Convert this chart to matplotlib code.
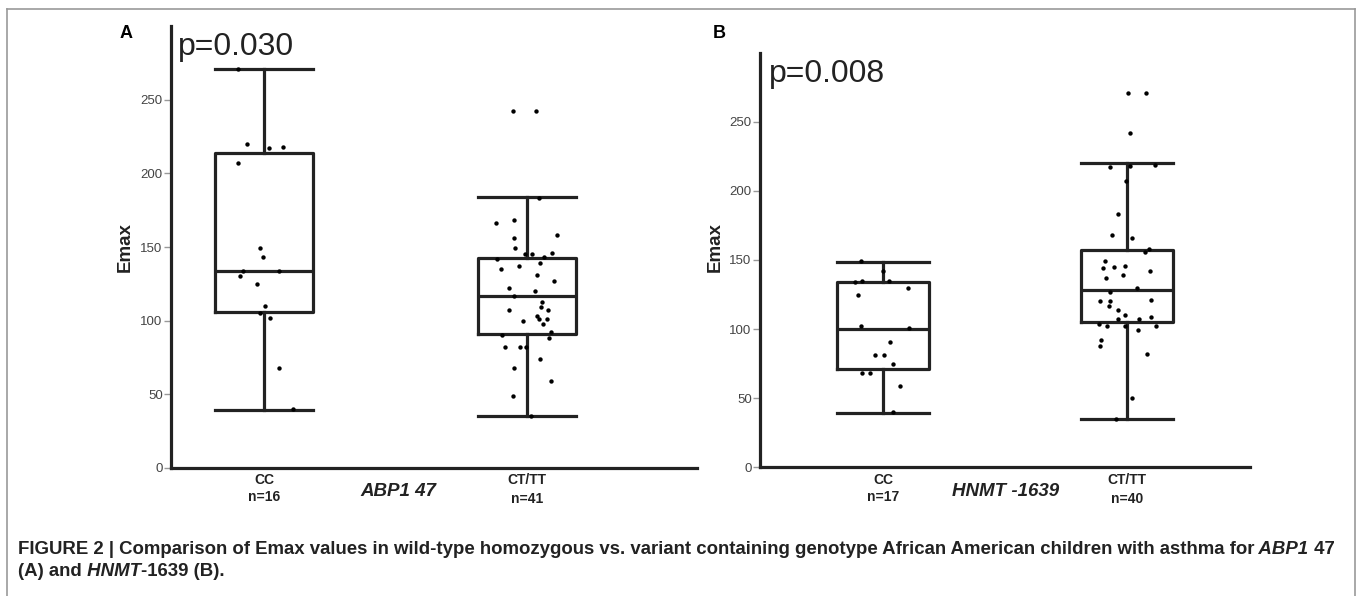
import numpy as np
import matplotlib
matplotlib.use('Agg')
import matplotlib.pyplot as plt
from matplotlib.lines import Line2D
from matplotlib.transforms import blended_transform_factory

plt.rcParams['font.family'] = ['Liberation Sans', 'DejaVu Sans']

# ---- data ----
groups = ['CC', 'CT/TT']

# panel A : ABP1 47
a_counts = ['n=16', 'n=41']
a_cc = [271, 220, 218, 217, 207, 149, 143, 134, 134, 130, 125, 110, 105, 102, 68, 40]
a_ct = [242, 242, 183, 168, 166, 158, 156, 149, 146, 145, 145, 143, 142, 139, 137, 135,
        131, 127, 122, 120, 117, 113, 109, 107, 107, 103, 101, 101, 100, 98, 92, 90, 88,
        82, 82, 82, 74, 68, 59, 49, 35]
# whislo, q1, median, q3, whishi
a_box = [[39.5, 106, 134, 214, 271],
         [35, 91, 117, 142.5, 184]]
a_p = 'p=0.030'

# panel B : HNMT -1639
b_counts = ['n=17', 'n=40']
b_cc = [149, 142, 135, 134, 135, 130, 125, 102, 101, 91, 81, 81, 75, 68, 68, 59, 40]
b_ct = [271, 271, 242, 219, 217, 218, 207, 183, 166, 168, 156, 158, 149, 146, 145, 144,
        142, 139, 137, 130, 127, 121, 120, 120, 117, 114, 110, 109, 107, 107, 104, 102,
        102, 102, 99, 92, 88, 82, 50, 35]
b_box = [[39.6, 71.4, 100.2, 133.8, 148.5],
         [34.8, 105, 128.5, 157, 220]]
b_p = 'p=0.008'

yticks = [0, 50, 100, 150, 200, 250]

W, H = 1358, 596
fig = plt.figure(figsize=(W / 100, H / 100), dpi=100)
ink = '#222222'


def px(x, y):
    # pixel position (from top-left) -> figure fraction
    return x / W, 1 - y / H


def panel(rect, xlim, width, pts, box, pval, counts, gene, letter, letter_pos,
          p_pos, ylab_pos, gene_pos, seed):
    ax = fig.add_axes(rect)
    stats = []
    for b in box:
        stats.append(dict(whislo=b[0], q1=b[1], med=b[2], q3=b[3], whishi=b[4], fliers=[]))
    lp = dict(color=ink, linewidth=2.3)
    ax.bxp(stats, positions=[0, 1], widths=width, capwidths=width, showfliers=False,
           boxprops=lp, whiskerprops=lp, capprops=lp, medianprops=lp)
    rng = np.random.default_rng(seed)
    for i, vals in enumerate(pts):
        jit = rng.uniform(-0.12, 0.12, len(vals))
        ax.scatter(i + jit, vals, s=10, color='black', zorder=5, linewidths=0)
    ax.set_xlim(*xlim)
    ax.set_ylim(0, 300)
    ax.set_yticks(yticks)
    ax.set_xticks([])
    for s in ['top', 'right']:
        ax.spines[s].set_visible(False)
    for s in ['left', 'bottom']:
        ax.spines[s].set_linewidth(2.3)
        ax.spines[s].set_color(ink)
    ax.tick_params(axis='y', length=5, width=1, color='#999999', labelcolor='#444444',
                   labelsize=9.5, pad=1)
    tr = blended_transform_factory(ax.transData, fig.transFigure)
    for i in range(2):
        ax.text(i, px(0, 480)[1], groups[i], transform=tr, ha='center', va='center',
                fontsize=10, fontweight='bold', color=ink)
        ax.text(i, px(0, 497 + 2 * i)[1], counts[i], transform=tr, ha='center', va='center',
                fontsize=10, fontweight='bold', color=ink)
    fig.text(*px(*gene_pos), gene, ha='center', va='center', fontsize=13.5,
             fontweight='bold', fontstyle='italic', color=ink)
    fig.text(*px(*letter_pos), letter, ha='left', va='center', fontsize=13,
             fontweight='bold', color='black')
    fig.text(*px(*p_pos), pval, ha='left', va='baseline', fontsize=23, color=ink)
    fig.text(*px(*ylab_pos), 'Emax', ha='center', va='center', rotation=90,
             fontsize=13.5, fontweight='bold', color=ink)
    return ax


panel([171 / W, 1 - 468 / H, (697 - 171) / W, (468 - 26) / H], (-0.354, 1.646), 0.373,
      [a_cc, a_ct], a_box, a_p, a_counts, 'ABP1 47', 'A', (120, 34), (178, 55),
      (125, 247), (398, 492), 3)
panel([760 / W, 1 - 467.3 / H, (1250 - 760) / W, (467.3 - 52.7) / H], (-0.504, 1.504), 0.377,
      [b_cc, b_ct], b_box, b_p, b_counts, 'HNMT -1639', 'B', (713, 34), (769, 82),
      (715, 247), (1006, 492), 11)

# frame around figure
fc = '#999999'
fig.add_artist(Line2D([7 / W, 1355 / W], [1 - 9 / H, 1 - 9 / H], transform=fig.transFigure,
                      color=fc, lw=1.2))
fig.add_artist(Line2D([7 / W, 7 / W], [0, 1 - 9 / H], transform=fig.transFigure, color=fc, lw=1.2))
fig.add_artist(Line2D([1355 / W, 1355 / W], [0, 1 - 9 / H], transform=fig.transFigure,
                      color=fc, lw=1.2))

# caption with mixed italic runs
renderer = fig.canvas.get_renderer()


def caption_line(x, y, runs, size=13.4):
    for s, style in runs:
        t = fig.text(*px(x, y), s, fontsize=size, fontweight='bold', fontstyle=style,
                     va='center', ha='left', color=ink)
        x += t.get_window_extent(renderer).width


caption_line(18, 549, [('FIGURE 2 | Comparison of Emax values in wild-type homozygous vs. variant '
                        'containing genotype African American children with asthma for', 'normal'),
                       (' ABP1', 'italic'), (' 47', 'normal')])
caption_line(18, 571, [('(A) and', 'normal'), (' HNMT', 'italic'), ('-1639 (B).', 'normal')])

fig.savefig('out.png', dpi=100)
